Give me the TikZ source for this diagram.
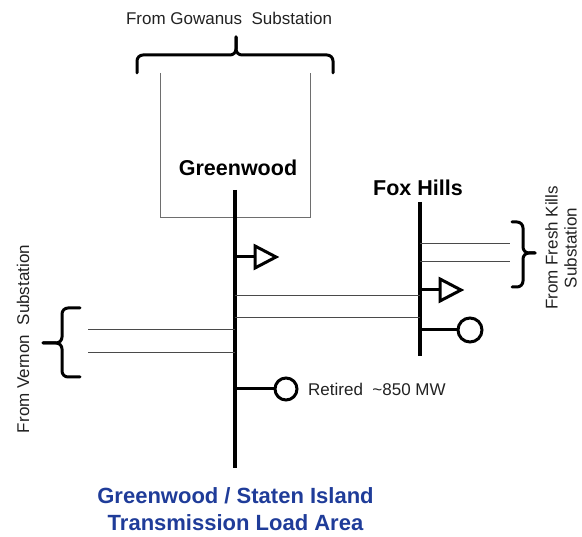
\documentclass[tikz,border=0pt]{standalone}
\usepackage{fontspec}
\setmainfont{Liberation Sans}
\definecolor{areablue}{HTML}{1F3C99}
\definecolor{linegray}{HTML}{4A4A4A}
\definecolor{textgray}{HTML}{222222}
\begin{document}
\begin{tikzpicture}[x=1pt,y=-1pt,
  bus/.style={line width=3.6pt,black},
  branch/.style={line width=3pt,black},
  feeder/.style={line width=1pt,linegray},
  boxline/.style={line width=1pt,linegray!80},
  bracket/.style={line width=3pt,black,rounded corners=6pt,line cap=round},
  gen/.style={line width=3pt,black,line join=miter},
  lbl/.style={inner sep=0pt,text=textgray,font=\fontsize{17}{20}\selectfont},
  stn/.style={inner sep=0pt,font=\fontsize{21.5}{24}\selectfont\bfseries}]
\useasboundingbox (0,0) rectangle (582,537);
% coordinates
\coordinate (gwTop) at (235,190);
\coordinate (gwBot) at (235,468);
\coordinate (fhTop) at (420,202);
\coordinate (fhBot) at (420,356);
% Gowanus box
\coordinate (bxTL) at (160,73);
\coordinate (bxBL) at (160,218);
\coordinate (bxTR) at (310,73);
\coordinate (bxBR) at (310,218);
\draw[boxline] (bxTL) -- (bxBL) -- (bxBR) -- (bxTR);
% top brace
\draw[bracket] (137,73) |- (236,55) -- (236,37);
\draw[bracket] (333,73) |- (236,55) -- (236,37);
\node[lbl] (gowanus) at (229,18) {From Gowanus\ \ Substation};
% buses
\draw[bus] (gwTop) -- (gwBot);
\draw[bus] (fhTop) -- (fhBot);
\node[stn] (greenwood) at (238,168) {Greenwood};
\node[stn] (foxhills) at (418,188) {Fox Hills};
% Greenwood load arrow
\coordinate (gwA) at (235,257);
\coordinate (gwAe) at (255,257);
\draw[branch] (gwA) -- (gwAe);
\draw[gen] (255,246) -- (276,257) -- (255,268) -- cycle;
% ties Greenwood - Fox Hills
\coordinate (t1a) at (235,296); \coordinate (t1b) at (420,296);
\coordinate (t2a) at (235,318); \coordinate (t2b) at (420,318);
\draw[feeder] (t1a) -- (t1b);
\draw[feeder] (t2a) -- (t2b);
% Fresh Kills feeders
\coordinate (fk1a) at (420,244); \coordinate (fk1b) at (510,244);
\coordinate (fk2a) at (420,262); \coordinate (fk2b) at (510,262);
\draw[feeder] (fk1a) -- (fk1b);
\draw[feeder] (fk2a) -- (fk2b);
\draw[bracket] (512,222) -| (523,253) -- (535,253);
\draw[bracket] (512,287) -| (523,253) -- (535,253);
\node[lbl,rotate=90,align=center,font=\fontsize{17}{19}\selectfont] (freshkills) at (561,248) {From Fresh Kills\\Substation};
% Fox Hills load arrow
\coordinate (fhA) at (420,290);
\coordinate (fhAe) at (440,290);
\draw[branch] (fhA) -- (fhAe);
\draw[gen] (440,279) -- (461,290) -- (440,301) -- cycle;
% Fox Hills generator
\coordinate (fhG) at (420,330);
\node[circle,draw,line width=3pt,minimum size=24pt,inner sep=0pt] (fhGen) at (470,330) {};
\draw[branch] (fhG) -- (fhGen.west);
% Vernon feeders
\coordinate (v1a) at (88,330); \coordinate (v1b) at (235,330);
\coordinate (v2a) at (88,353); \coordinate (v2b) at (235,353);
\draw[feeder] (v1a) -- (v1b);
\draw[feeder] (v2a) -- (v2b);
\draw[bracket] (80,308) -| (62,343) -- (43,343);
\draw[bracket] (80,377) -| (62,343) -- (43,343);
\node[lbl,rotate=90] (vernon) at (23,339) {From Vernon\ \ Substation};
% Retired generator
\coordinate (gwG) at (235,389);
\node[circle,draw,line width=3pt,minimum size=22pt,inner sep=0pt] (gwGen) at (286,389) {};
\draw[branch] (gwG) -- (gwGen.west);
\node[lbl,anchor=west] (retired) at (308,389) {Retired\ \ \textasciitilde850 MW};
% area label
\node[inner sep=0pt,align=center,text=areablue,font=\fontsize{22}{27}\selectfont\bfseries] (area) at (235.5,509) {Greenwood / Staten Island\\Transmission Load Area};
\end{tikzpicture}
\end{document}
